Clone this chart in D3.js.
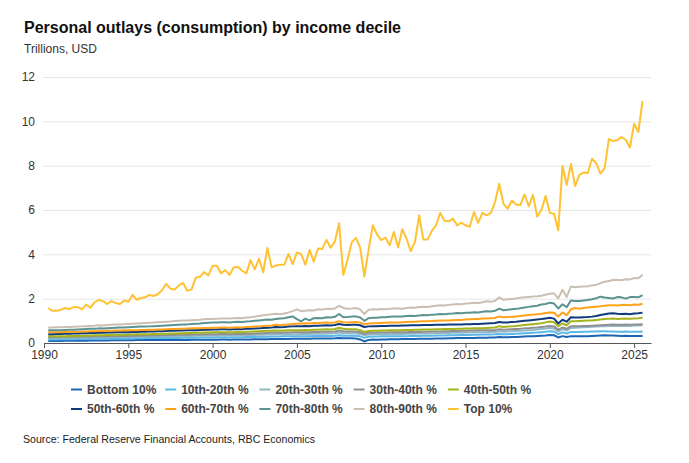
<!DOCTYPE html>
<html>
<head>
<meta charset="utf-8">
<script src="https://cdn.jsdelivr.net/npm/d3@7"></script>
<style>
  body { margin: 0; background: #fff; }
  svg { font-family: "Liberation Sans", Arial, sans-serif; }
</style>
</head>
<body>
<div id="chart"></div>
<script>
// quarterly observations, 1990 Q1 .. 2025 Q2
const firstYear = 1990;
const nQuarters = 142;

const seriesNames = ['Bottom 10%', '10th-20th %', '20th-30th %', '30th-40th %', '40th-50th %',
  '50th-60th %', '60th-70th %', '70th-80th %', '80th-90th %', 'Top 10%'];
const seriesColors = ['#1d64b4', '#5ab9e6', '#94b8c9', '#8e9093', '#a4b51c',
  '#0f3b7c', '#ffa21a', '#5a9391', '#cbbfb3', '#ffc232'];

const bottom10 = [
  0.09,0.09,0.09,0.09,0.10,0.10,0.10,0.10, 0.10,0.10,0.11,0.11,0.11,0.11,0.11,0.12,
  0.12,0.12,0.12,0.12,0.12,0.13,0.13,0.13, 0.13,0.13,0.13,0.13,0.14,0.14,0.14,0.14,
  0.14,0.14,0.15,0.15,0.15,0.15,0.15,0.15, 0.15,0.16,0.16,0.15,0.16,0.16,0.16,0.16,
  0.16,0.17,0.17,0.17,0.17,0.18,0.18,0.18, 0.18,0.18,0.19,0.19,0.19,0.19,0.19,0.20,
  0.20,0.20,0.20,0.20,0.21,0.23,0.21,0.21, 0.21,0.20,0.16,0.07,0.14,0.16,0.15,0.16,
  0.16,0.17,0.17,0.17,0.18,0.18,0.18,0.18, 0.19,0.19,0.19,0.19,0.20,0.20,0.20,0.21,
  0.21,0.22,0.22,0.22,0.23,0.23,0.24,0.24, 0.24,0.25,0.25,0.27,0.26,0.26,0.27,0.27,
  0.28,0.29,0.30,0.31,0.32,0.33,0.34,0.36, 0.35,0.25,0.31,0.27,0.31,0.30,0.30,0.31,
  0.31,0.32,0.33,0.34,0.35,0.34,0.34,0.33, 0.32,0.33,0.32,0.32,0.32,0.32
];
const d10to20 = [
  0.16,0.16,0.16,0.17,0.17,0.17,0.17,0.18, 0.18,0.18,0.18,0.19,0.19,0.19,0.19,0.20,
  0.20,0.20,0.20,0.21,0.21,0.21,0.21,0.22, 0.22,0.22,0.22,0.22,0.23,0.23,0.23,0.23,
  0.24,0.24,0.24,0.24,0.25,0.25,0.25,0.25, 0.26,0.26,0.26,0.25,0.26,0.26,0.26,0.27,
  0.27,0.27,0.28,0.28,0.28,0.29,0.29,0.29, 0.30,0.30,0.30,0.31,0.31,0.31,0.31,0.32,
  0.32,0.32,0.33,0.32,0.33,0.35,0.33,0.33, 0.33,0.33,0.30,0.24,0.28,0.29,0.29,0.30,
  0.30,0.30,0.31,0.31,0.31,0.31,0.32,0.32, 0.32,0.33,0.33,0.33,0.34,0.34,0.34,0.35,
  0.35,0.35,0.36,0.36,0.36,0.37,0.37,0.38, 0.38,0.38,0.39,0.41,0.40,0.40,0.41,0.42,
  0.43,0.44,0.45,0.46,0.47,0.49,0.51,0.53, 0.52,0.40,0.48,0.43,0.50,0.50,0.50,0.51,
  0.51,0.52,0.52,0.53,0.53,0.52,0.52,0.51, 0.51,0.52,0.51,0.51,0.51,0.52
];
const d20to30 = [
  0.22,0.22,0.22,0.23,0.23,0.23,0.24,0.24, 0.24,0.25,0.25,0.25,0.26,0.26,0.26,0.27,
  0.27,0.27,0.27,0.28,0.28,0.28,0.29,0.29, 0.29,0.29,0.30,0.30,0.30,0.31,0.31,0.31,
  0.32,0.32,0.32,0.33,0.33,0.33,0.34,0.34, 0.34,0.35,0.35,0.34,0.35,0.35,0.35,0.36,
  0.36,0.36,0.37,0.37,0.38,0.38,0.39,0.39, 0.39,0.40,0.40,0.40,0.41,0.41,0.41,0.42,
  0.42,0.42,0.43,0.43,0.44,0.47,0.44,0.44, 0.44,0.44,0.41,0.35,0.38,0.39,0.39,0.40,
  0.40,0.40,0.41,0.41,0.41,0.42,0.42,0.42, 0.43,0.43,0.43,0.44,0.44,0.44,0.45,0.45,
  0.46,0.46,0.46,0.47,0.47,0.48,0.48,0.49, 0.49,0.50,0.50,0.53,0.51,0.52,0.53,0.54,
  0.55,0.56,0.58,0.59,0.61,0.63,0.65,0.68, 0.66,0.52,0.62,0.56,0.68,0.69,0.70,0.71,
  0.72,0.73,0.74,0.75,0.76,0.77,0.78,0.77, 0.77,0.78,0.77,0.79,0.79,0.80
];
const d30to40 = [
  0.26,0.26,0.27,0.27,0.27,0.28,0.28,0.28, 0.29,0.29,0.29,0.30,0.30,0.30,0.31,0.31,
  0.31,0.32,0.32,0.32,0.33,0.33,0.33,0.34, 0.34,0.34,0.35,0.35,0.35,0.36,0.36,0.37,
  0.37,0.37,0.38,0.38,0.38,0.39,0.39,0.40, 0.40,0.41,0.41,0.40,0.41,0.42,0.41,0.42,
  0.42,0.43,0.44,0.44,0.45,0.46,0.46,0.46, 0.47,0.47,0.48,0.48,0.48,0.49,0.48,0.50,
  0.50,0.51,0.51,0.51,0.52,0.56,0.53,0.52, 0.52,0.52,0.49,0.42,0.46,0.46,0.47,0.47,
  0.47,0.48,0.48,0.49,0.49,0.49,0.50,0.50, 0.50,0.51,0.51,0.52,0.52,0.52,0.53,0.53,
  0.54,0.54,0.55,0.55,0.56,0.56,0.57,0.57, 0.58,0.58,0.59,0.62,0.60,0.61,0.62,0.63,
  0.64,0.66,0.67,0.69,0.70,0.72,0.74,0.77, 0.75,0.60,0.70,0.64,0.76,0.76,0.76,0.77,
  0.77,0.78,0.79,0.80,0.81,0.82,0.83,0.82, 0.82,0.83,0.82,0.84,0.84,0.85
];
const d40to50 = [
  0.30,0.30,0.31,0.31,0.31,0.32,0.32,0.33, 0.33,0.34,0.34,0.35,0.35,0.35,0.36,0.36,
  0.37,0.37,0.37,0.38,0.38,0.39,0.39,0.40, 0.40,0.41,0.41,0.42,0.42,0.43,0.43,0.44,
  0.44,0.45,0.45,0.46,0.46,0.47,0.47,0.48, 0.48,0.49,0.49,0.48,0.49,0.50,0.49,0.51,
  0.51,0.52,0.53,0.54,0.55,0.55,0.56,0.55, 0.56,0.57,0.58,0.58,0.58,0.59,0.58,0.60,
  0.60,0.61,0.62,0.61,0.63,0.69,0.64,0.62, 0.62,0.62,0.58,0.50,0.54,0.55,0.55,0.56,
  0.56,0.57,0.57,0.58,0.58,0.59,0.59,0.60, 0.60,0.61,0.61,0.61,0.62,0.62,0.63,0.63,
  0.63,0.64,0.64,0.65,0.65,0.66,0.66,0.67, 0.68,0.69,0.70,0.76,0.72,0.74,0.75,0.77,
  0.79,0.81,0.83,0.85,0.87,0.89,0.93,0.97, 0.94,0.76,0.88,0.80,0.98,0.98,0.99,1.00,
  1.01,1.02,1.04,1.06,1.08,1.09,1.10,1.08, 1.09,1.10,1.09,1.11,1.12,1.14
];
const d50to60 = [
  0.40,0.40,0.41,0.41,0.42,0.42,0.43,0.43, 0.44,0.44,0.45,0.45,0.46,0.46,0.47,0.47,
  0.48,0.48,0.49,0.49,0.50,0.50,0.51,0.51, 0.52,0.52,0.53,0.53,0.54,0.55,0.55,0.56,
  0.56,0.57,0.58,0.58,0.59,0.60,0.60,0.61, 0.61,0.62,0.62,0.61,0.62,0.63,0.62,0.64,
  0.64,0.65,0.66,0.68,0.69,0.70,0.72,0.71, 0.72,0.74,0.75,0.76,0.76,0.77,0.76,0.78,
  0.78,0.79,0.80,0.79,0.81,0.86,0.82,0.81, 0.82,0.82,0.80,0.72,0.75,0.76,0.76,0.77,
  0.77,0.78,0.78,0.78,0.79,0.79,0.80,0.80, 0.80,0.81,0.81,0.81,0.82,0.82,0.82,0.83,
  0.83,0.84,0.84,0.85,0.85,0.86,0.86,0.87, 0.88,0.89,0.90,0.95,0.92,0.93,0.95,0.96,
  0.98,1.00,1.02,1.04,1.06,1.08,1.11,1.14, 1.10,0.88,1.05,0.96,1.16,1.15,1.15,1.16,
  1.17,1.19,1.22,1.26,1.30,1.33,1.34,1.32, 1.31,1.32,1.30,1.33,1.34,1.37
];
const d60to70 = [
  0.48,0.48,0.49,0.49,0.50,0.50,0.51,0.51, 0.52,0.52,0.53,0.53,0.54,0.54,0.55,0.55,
  0.56,0.56,0.57,0.57,0.58,0.58,0.59,0.59, 0.60,0.60,0.61,0.61,0.62,0.63,0.63,0.64,
  0.64,0.65,0.66,0.66,0.67,0.68,0.68,0.69, 0.69,0.70,0.70,0.69,0.70,0.71,0.70,0.72,
  0.72,0.74,0.75,0.77,0.78,0.79,0.82,0.80, 0.82,0.84,0.86,0.87,0.88,0.89,0.88,0.90,
  0.90,0.91,0.92,0.91,0.93,0.98,0.94,0.93, 0.94,0.95,0.92,0.85,0.88,0.89,0.89,0.90,
  0.91,0.92,0.93,0.93,0.94,0.95,0.96,0.96, 0.97,0.98,0.98,0.99,1.00,1.01,1.01,1.02,
  1.03,1.04,1.04,1.06,1.07,1.08,1.08,1.10, 1.11,1.12,1.13,1.20,1.16,1.17,1.18,1.20,
  1.22,1.24,1.26,1.28,1.30,1.32,1.35,1.38, 1.36,1.20,1.38,1.25,1.52,1.58,1.55,1.58,
  1.60,1.62,1.64,1.66,1.68,1.70,1.70,1.69, 1.71,1.72,1.70,1.74,1.73,1.77
];
const d70to80 = [
  0.57,0.57,0.58,0.58,0.59,0.60,0.60,0.61, 0.62,0.63,0.64,0.64,0.66,0.65,0.67,0.68,
  0.69,0.70,0.70,0.71,0.72,0.73,0.74,0.74, 0.75,0.76,0.77,0.78,0.79,0.80,0.81,0.82,
  0.83,0.84,0.86,0.87,0.88,0.90,0.91,0.92, 0.93,0.94,0.94,0.93,0.95,0.96,0.95,0.97,
  0.98,1.00,1.02,1.04,1.06,1.05,1.08,1.10, 1.12,1.16,1.20,1.08,0.98,1.10,1.02,1.12,
  1.13,1.12,1.16,1.15,1.18,1.31,1.16,1.17, 1.19,1.20,1.15,1.00,1.12,1.14,1.14,1.16,
  1.16,1.18,1.20,1.19,1.20,1.22,1.23,1.22, 1.24,1.26,1.25,1.28,1.29,1.31,1.30,1.32,
  1.33,1.35,1.34,1.36,1.37,1.39,1.38,1.41, 1.43,1.42,1.45,1.55,1.48,1.50,1.52,1.54,
  1.57,1.60,1.63,1.66,1.68,1.74,1.76,1.82, 1.78,1.56,1.75,1.62,1.92,1.90,1.89,1.92,
  1.94,1.97,2.02,2.09,2.05,2.03,2.01,2.07, 2.06,2.00,2.07,2.07,2.06,2.16
];
const d80to90 = [
  0.70,0.70,0.71,0.71,0.72,0.72,0.73,0.74, 0.75,0.76,0.77,0.78,0.80,0.79,0.81,0.82,
  0.83,0.84,0.85,0.86,0.87,0.88,0.89,0.90, 0.91,0.92,0.94,0.95,0.96,0.97,0.99,1.00,
  1.01,1.02,1.03,1.04,1.05,1.07,1.08,1.08, 1.09,1.10,1.11,1.10,1.12,1.13,1.12,1.15,
  1.16,1.19,1.22,1.25,1.27,1.30,1.32,1.30, 1.33,1.38,1.44,1.52,1.44,1.46,1.48,1.47,
  1.52,1.50,1.55,1.53,1.56,1.68,1.58,1.55, 1.56,1.58,1.52,1.31,1.50,1.52,1.51,1.53,
  1.52,1.54,1.57,1.56,1.55,1.58,1.60,1.59, 1.62,1.64,1.62,1.66,1.68,1.70,1.69,1.72,
  1.74,1.76,1.75,1.78,1.79,1.82,1.80,1.84, 1.88,1.86,1.90,2.06,1.95,1.97,1.99,2.01,
  2.04,2.06,2.08,2.10,2.11,2.13,2.18,2.22, 2.24,2.02,2.40,2.08,2.55,2.52,2.54,2.55,
  2.56,2.60,2.62,2.70,2.76,2.80,2.84,2.85, 2.83,2.88,2.87,2.93,2.92,3.08
];
const top10 = [
  1.58,1.45,1.45,1.50,1.58,1.53,1.62,1.62, 1.52,1.73,1.59,1.83,1.94,1.89,1.76,1.89,
  1.80,1.76,1.92,1.86,2.17,1.95,2.03,2.06, 2.17,2.12,2.20,2.38,2.67,2.45,2.41,2.60,
  2.71,2.35,2.42,2.95,2.98,3.20,3.05,3.48, 3.48,3.14,3.29,3.07,3.41,3.44,3.26,3.14,
  3.74,3.32,3.80,3.19,4.29,3.41,3.50,3.53, 3.53,4.02,3.56,4.08,4.02,3.53,4.20,3.67,
  4.26,4.24,4.65,4.30,4.57,5.40,3.07,3.74, 4.54,4.74,4.30,3.00,4.20,5.31,4.90,4.64,
  4.76,4.41,5.01,4.31,5.13,4.71,4.14,4.56, 5.76,4.67,4.67,5.06,5.31,5.87,5.51,5.49,
  5.61,5.31,5.43,5.31,5.24,5.91,5.42,5.87, 5.76,5.87,6.36,7.18,6.28,6.06,6.43,6.25,
  6.22,6.70,6.17,6.68,5.70,6.00,6.63,5.88, 5.82,5.09,7.99,7.13,8.08,7.08,7.58,7.69,
  7.67,8.31,8.11,7.64,7.89,9.20,9.11,9.15, 9.29,9.17,8.82,9.89,9.52,10.92
];

const seriesValues = [bottom10, d10to20, d20to30, d30to40, d40to50,
  d50to60, d60to70, d70to80, d80to90, top10];

const yTicks = [0, 2, 4, 6, 8, 10, 12];
const xTicks = [1990, 1995, 2000, 2005, 2010, 2015, 2020, 2025];

// quarter q (1..4) of year y is placed at y + q/4
const quarterTimes = d3.range(nQuarters).map((i) => firstYear + (i + 1) / 4);

const series = seriesNames.map((name, i) => ({
  name,
  color: seriesColors[i],
  values: seriesValues[i].map((v, j) => ({ t: quarterTimes[j], v })),
}));

const width = 689;
const height = 463;
const plot = { left: 44, right: 651, top: 77, bottom: 343 };

const svg = d3.select('#chart')
  .append('svg')
  .attr('width', width)
  .attr('height', height);

const xScale = d3.scaleLinear().domain([1990, 2026]).range([plot.left, plot.right]);
const yScale = d3.scaleLinear().domain([0, 12]).range([plot.bottom, plot.top]);

// titles
svg.append('text')
  .attr('x', 24).attr('y', 33)
  .attr('font-size', 16).attr('font-weight', 'bold').attr('fill', '#111')
  .text('Personal outlays (consumption) by income decile');
svg.append('text')
  .attr('x', 24).attr('y', 53)
  .attr('font-size', 12).attr('fill', '#333')
  .text('Trillions, USD');

// gridlines
const grid = svg.append('g')
  .attr('transform', `translate(${plot.left - 1},0)`)
  .call(d3.axisLeft(yScale).tickValues(yTicks.filter((d) => d > 0))
    .tickFormat('').tickSize(-(plot.right - plot.left + 1)));
grid.select('.domain').remove();
grid.selectAll('line').attr('stroke', '#e6e6e6');

// y labels
const yAxis = svg.append('g')
  .attr('transform', `translate(${plot.left - 9},0)`)
  .call(d3.axisLeft(yScale).tickValues(yTicks).tickSize(0).tickPadding(0));
yAxis.select('.domain').remove();
yAxis.selectAll('text')
  .attr('font-family', '"Liberation Sans", Arial, sans-serif')
  .attr('font-size', 12).attr('fill', '#333');

// lines
const line = d3.line().x((d) => xScale(d.t)).y((d) => yScale(d.v));
svg.append('g').selectAll('path')
  .data(series)
  .join('path')
  .attr('d', (d) => line(d.values))
  .attr('fill', 'none')
  .attr('stroke', (d) => d.color)
  .attr('stroke-width', 2)
  .attr('stroke-linejoin', 'round');

// x axis
const xAxis = svg.append('g')
  .attr('transform', `translate(0,${plot.bottom})`)
  .call(d3.axisBottom(xScale).tickValues(xTicks).tickFormat(d3.format('d')).tickSize(5).tickSizeOuter(0));
xAxis.select('.domain').attr('stroke', '#555');
xAxis.selectAll('line').attr('stroke', '#555');
xAxis.selectAll('text')
  .attr('font-family', '"Liberation Sans", Arial, sans-serif')
  .attr('font-size', 12).attr('fill', '#333')
  .attr('dy', '0.68em');

// legend
const legend = svg.append('g');
const items = legend.selectAll('g')
  .data(series)
  .join('g')
  .attr('transform', (d, i) => `translate(${71 + (i % 5) * 94.2},${389.5 + Math.floor(i / 5) * 19.5})`);
items.append('line')
  .attr('x1', 0).attr('x2', 11)
  .attr('stroke', (d) => d.color).attr('stroke-width', 2);
items.append('text')
  .attr('x', 16).attr('dy', '0.35em')
  .attr('font-size', 12).attr('font-weight', 'bold').attr('fill', '#444')
  .text((d) => d.name);

svg.append('text')
  .attr('x', 23).attr('y', 443)
  .attr('font-size', 10.6).attr('fill', '#222')
  .text('Source: Federal Reserve Financial Accounts, RBC Economics');
</script>
</body>
</html>
